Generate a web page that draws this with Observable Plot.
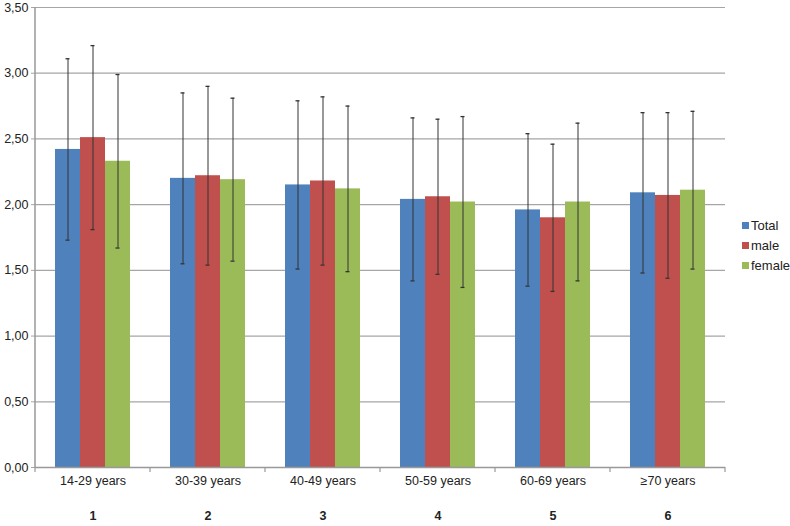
<!DOCTYPE html>
<html>
<head>
<meta charset="utf-8">
<script src="https://cdn.jsdelivr.net/npm/d3@7"></script>
<script src="https://cdn.jsdelivr.net/npm/@observablehq/plot@0.6"></script>
<style>
  html, body { margin: 0; padding: 0; background: #fff; }
  #wrap { position: relative; width: 790px; height: 526px; font-family: "Liberation Sans", Arial, sans-serif; }
  #legend { position: absolute; left: 742px; top: 215px; font-size: 13px; color: #222; }
  #legend div { display: flex; align-items: center; height: 20px; }
  #legend span.sw { display: inline-block; width: 7px; height: 7px; margin-right: 2px; }
</style>
</head>
<body>
<div id="wrap"><div id="legend"></div></div>
<script>
const groups = ["14-29 years", "30-39 years", "40-49 years", "50-59 years", "60-69 years", "≥70 years"];
const groupNumbers = ["1", "2", "3", "4", "5", "6"];
const seriesNames = ["Total", "male", "female"];
const seriesColors = ["#4F81BD", "#C0504D", "#9BBB59"];
const totalValues  = [2.42, 2.20, 2.15, 2.04, 1.96, 2.09];
const maleValues   = [2.51, 2.22, 2.18, 2.06, 1.90, 2.07];
const femaleValues = [2.33, 2.19, 2.12, 2.02, 2.02, 2.11];
const totalHigh  = [3.11, 2.85, 2.79, 2.66, 2.54, 2.70];
const totalLow   = [1.73, 1.55, 1.51, 1.42, 1.38, 1.48];
const maleHigh   = [3.21, 2.90, 2.82, 2.65, 2.46, 2.70];
const maleLow    = [1.81, 1.54, 1.54, 1.47, 1.34, 1.44];
const femaleHigh = [2.99, 2.81, 2.75, 2.67, 2.62, 2.71];
const femaleLow  = [1.67, 1.57, 1.49, 1.37, 1.42, 1.51];
const yTicks = [0, 0.5, 1, 1.5, 2, 2.5, 3, 3.5];

const seriesData = [
  [totalValues, totalHigh, totalLow],
  [maleValues, maleHigh, maleLow],
  [femaleValues, femaleHigh, femaleLow]
];
const data = [];
groups.forEach((g, i) => {
  seriesNames.forEach((s, j) => {
    data.push({group: g, series: s, value: seriesData[j][0][i], hi: seriesData[j][1][i], lo: seriesData[j][2][i]});
  });
});

const fmt = d => d.toFixed(2).replace(".", ",");

const plot = Plot.plot({
  width: 790,
  height: 526,
  marginLeft: 35,
  marginRight: 65,
  marginTop: 7,
  marginBottom: 59,
  style: {fontFamily: "'Liberation Sans', Arial, sans-serif", fontSize: "12px", color: "#222", background: "transparent"},
  fx: {domain: groups, padding: 0, axis: null},
  x: {domain: seriesNames, paddingInner: 0, paddingOuter: 0.76, axis: null},
  y: {domain: [0, 3.5], axis: null},
  color: {domain: seriesNames, range: seriesColors},
  marks: [
    Plot.gridY(yTicks, {stroke: "#a6a6a6", strokeOpacity: 1, strokeWidth: 1.2}),
    Plot.axisY(yTicks, {anchor: "left", tickSize: 4, tickPadding: 3, tickFormat: fmt, stroke: "#a6a6a6", fill: "#222", fontSize: 12.5}),
    Plot.barY(data, {fx: "group", x: "series", y: "value", fill: "series", inset: 0}),
    Plot.ruleX(data, {fx: "group", x: "series", y1: "lo", y2: "hi", stroke: "#333", strokeWidth: 1}),
    Plot.tickY(data, {fx: "group", x: "series", y: "hi", stroke: "#333", strokeWidth: 1.3, insetLeft: 10.5, insetRight: 10.5}),
    Plot.tickY(data, {fx: "group", x: "series", y: "lo", stroke: "#333", strokeWidth: 1.3, insetLeft: 10.5, insetRight: 10.5}),
    Plot.ruleY([0], {stroke: "#999", strokeWidth: 1.5}),
    Plot.axisFx({anchor: "bottom", tickSize: 0, tickPadding: 9, fill: "#222", fontSize: 12.5, label: null}),
    Plot.axisFx({anchor: "bottom", tickSize: 0, tickPadding: 44, fill: "#222", fontSize: 12.5, fontWeight: "bold", label: null,
      tickFormat: d => groupNumbers[groups.indexOf(d)]})
  ]
});

// axis line and category boundary ticks, positioned through Plot's own scales
const fx = plot.scale("fx");
const ys = plot.scale("y");
const svg = d3.select(plot);
const y0 = ys.apply(0);
const yTop = ys.apply(3.5);
const bounds = groups.map(g => fx.apply(g)).concat([fx.apply(groups[groups.length - 1]) + fx.bandwidth]);
svg.append("line")
  .attr("x1", bounds[0]).attr("x2", bounds[0])
  .attr("y1", yTop).attr("y2", y0)
  .attr("stroke", "#999").attr("stroke-width", 1.5);
svg.append("g").selectAll("line").data(bounds).join("line")
  .attr("x1", d => d).attr("x2", d => d)
  .attr("y1", y0).attr("y2", y0 + 5)
  .attr("stroke", "#999").attr("stroke-width", 1.2);

document.getElementById("wrap").prepend(plot);

const legend = document.getElementById("legend");
seriesNames.forEach((s, i) => {
  const row = document.createElement("div");
  const sw = document.createElement("span");
  sw.className = "sw";
  sw.style.background = seriesColors[i];
  row.appendChild(sw);
  row.appendChild(document.createTextNode(s));
  legend.appendChild(row);
});
</script>
</body>
</html>
